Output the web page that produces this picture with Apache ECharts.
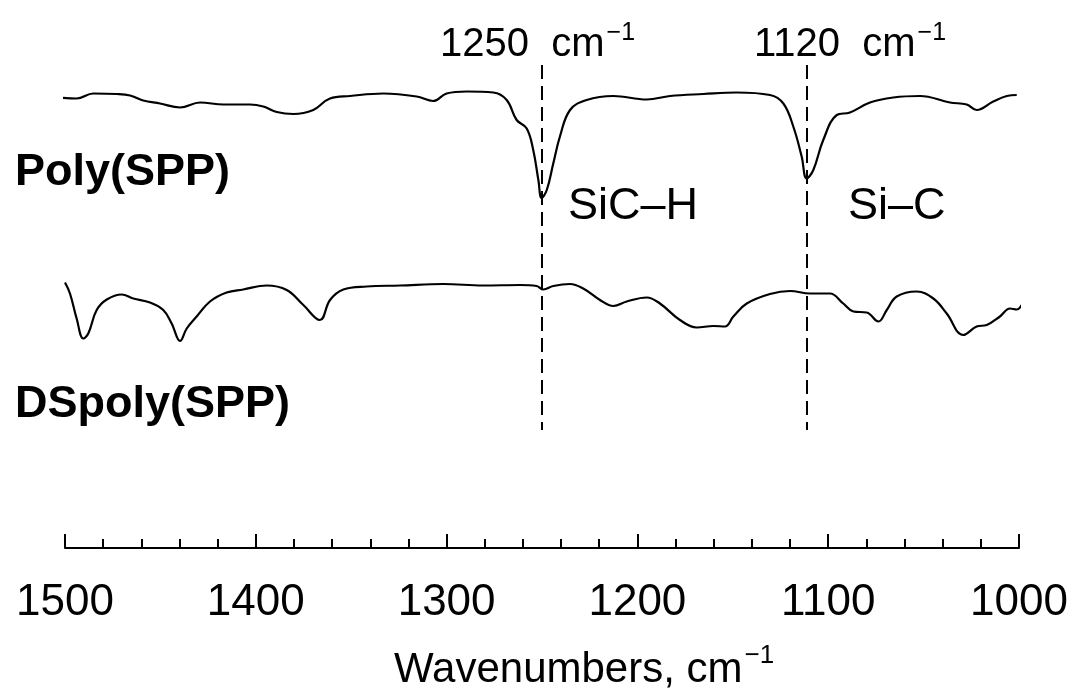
<!DOCTYPE html>
<html>
<head>
<meta charset="utf-8">
<script src="https://cdn.jsdelivr.net/npm/echarts@6/dist/echarts.min.js"></script>
<style>
html,body{margin:0;padding:0;background:#fff;}
#chart{width:1077px;height:693px;}
</style>
</head>
<body>
<div id="chart"></div>
<script>
// Wavenumber (cm^-1) and transmittance (arbitrary units, offset)
const polyWavenumber = [1502.6,1493.9,1485.2,1472.9,1465.9,1459.0,1450.2,1439.7,1429.2,1417.0,1403.0,1396.1,1389.0,1380.3,1369.9,1361.1,1350.6,1333.2,1315.7,1307.0,1300.0,1289.5,1275.5,1268.5,1263.3,1258.0,1254.6,1251.9,1250.2,1247.5,1244.1,1240.6,1235.3,1226.6,1212.6,1195.1,1182.9,1165.5,1148.0,1130.5,1123.5,1118.3,1113.9,1111.3,1107.8,1102.6,1095.5,1088.6,1078.1,1065.9,1051.9,1036.2,1027.4,1022.2,1013.5,1006.4,1001.2];
const polyIntensity = [90.1,89.9,90.9,90.8,90.5,89.5,88.9,88.1,89.1,88.7,88.7,88.3,87.2,86.8,87.6,89.9,90.4,90.9,90.3,89.4,90.9,91.3,91.1,89.6,85.6,83.9,79.6,73.6,70.0,71.6,76.9,82.3,87.6,89.6,90.4,89.7,90.4,90.8,91.1,90.6,88.9,84.3,78.3,73.9,75.6,81.6,86.6,87.1,89.1,90.1,90.4,89.1,88.7,87.6,89.3,90.4,90.6];

const dspolyWavenumber = [1500.0,1497.4,1493.9,1490.4,1487.8,1483.4,1478.1,1470.3,1464.2,1455.5,1448.5,1444.1,1439.7,1436.2,1431.0,1424.0,1415.3,1406.6,1394.3,1383.8,1375.1,1366.4,1361.1,1354.1,1341.9,1324.4,1301.7,1280.8,1261.5,1252.8,1249.3,1244.1,1235.3,1228.4,1219.6,1212.6,1205.6,1195.1,1188.2,1177.7,1168.9,1160.2,1154.1,1149.7,1142.7,1130.5,1120.0,1109.5,1099.1,1092.1,1086.8,1079.8,1073.7,1069.3,1064.1,1053.6,1044.9,1037.9,1029.2,1022.2,1016.9,1010.0,1004.7,1001.2,998.6];
const dspolyIntensity = [53.1,50.9,45.9,41.9,42.9,47.6,49.7,50.7,49.9,49.1,47.6,44.9,41.4,43.9,46.3,49.3,51.1,51.7,52.5,51.6,48.6,45.6,49.6,51.7,52.3,52.5,52.8,52.5,52.6,52.4,51.7,52.4,52.8,51.9,49.6,48.4,49.3,50.1,48.9,45.6,44.1,44.4,44.3,46.3,48.9,50.8,51.4,50.9,50.9,48.9,47.3,47.1,45.3,47.6,50.3,51.3,49.9,46.9,42.6,44.3,44.6,46.3,47.9,47.7,48.6];

const tickValues = [1500,1400,1300,1200,1100,1000];
const peakWavenumbers = [1250, 1111];
const peakLineRange = [96.6, 23.6];
const peakLabels = ['1250', '1120'];
const bandLabels = ['SiC–H', 'Si–C'];
const sampleNames = ['Poly(SPP)', 'DSpoly(SPP)'];

const zip = (a, b) => a.map((v, i) => [v, b[i]]);
const FONT = '"Liberation Sans", Arial, sans-serif';

const chart = echarts.init(document.getElementById('chart'), null, {renderer: 'canvas'});

const supText = (num) => ({
  type: 'text',
  style: {
    text: '{n|' + num + '  cm}{s|−1}',
    fill: '#000',
    rich: {
      n: {fontSize: 40, fontFamily: FONT, lineHeight: 44, verticalAlign: 'bottom'},
      s: {fontSize: 25, fontFamily: FONT, lineHeight: 44, verticalAlign: 'top', padding:[0,0,0,2]}
    }
  }
});

const option = {
  backgroundColor: '#fff',
  animation: false,
  grid: {left: 65, right: 58, top: 48, bottom: 145},
  xAxis: {
    type: 'value',
    inverse: true,
    min: 1000,
    max: 1500,
    interval: 100,
    axisLine: {show: true, onZero: false, lineStyle: {color: '#000', width: 2}},
    axisTick: {show: true, inside: true, length: 14, lineStyle: {color: '#000', width: 2}},
    minorTick: {show: true, splitNumber: 5, length: 9, lineStyle: {color: '#000', width: 2}},
    splitLine: {show: false},
    minorSplitLine: {show: false},
    axisLabel: {
      show: true, margin: 33, color: '#000', fontSize: 44, lineHeight: 44, fontFamily: FONT,
      formatter: (v) => tickValues.includes(v) ? String(v) : ''
    }
  },
  yAxis: {
    type: 'value', min: 0, max: 100, show: false
  },
  series: [
    {
      name: sampleNames[0],
      type: 'line',
      data: zip(polyWavenumber, polyIntensity),
      showSymbol: false,
      smooth: 0.4,
      clip: false,
      lineStyle: {color: '#000', width: 2.2},
      markLine: {
        silent: true,
        symbol: 'none',
        label: {show: false},
        lineStyle: {color: '#000', width: 2, type: [14, 7]},
        data: peakWavenumbers.map(w => [{coord: [w, peakLineRange[0]]}, {coord: [w, peakLineRange[1]]}])
      }
    },
    {
      name: sampleNames[1],
      type: 'line',
      data: zip(dspolyWavenumber, dspolyIntensity),
      showSymbol: false,
      smooth: 0.4,
      clip: false,
      lineStyle: {color: '#000', width: 2.2}
    }
  ],
  graphic: [
    {type: 'text', left: 15, top: 150, style: {text: sampleNames[0], font: 'bold 45px ' + FONT, fill: '#000'}},
    {type: 'text', left: 15, top: 382, style: {text: sampleNames[1], font: 'bold 45px ' + FONT, fill: '#000'}},
    {type: 'text', left: 568, top: 184, style: {text: bandLabels[0], font: '45px ' + FONT, fill: '#000'}},
    {type: 'text', left: 848, top: 184, style: {text: bandLabels[1], font: '45px ' + FONT, fill: '#000'}},
    Object.assign(supText(peakLabels[0]), {left: 440, top: 21}),
    Object.assign(supText(peakLabels[1]), {left: 754, top: 21}),
    {
      type: 'text', left: 394, top: 643,
      style: {
        text: '{n|Wavenumbers, cm}{s|−1}',
        fill: '#000',
        rich: {
          n: {fontSize: 42, fontFamily: FONT, lineHeight: 48, verticalAlign: 'bottom'},
          s: {fontSize: 26, fontFamily: FONT, lineHeight: 48, verticalAlign: 'top', padding:[0,0,0,2]}
        }
      }
    }
  ]
};
chart.setOption(option);
</script>
</body>
</html>
